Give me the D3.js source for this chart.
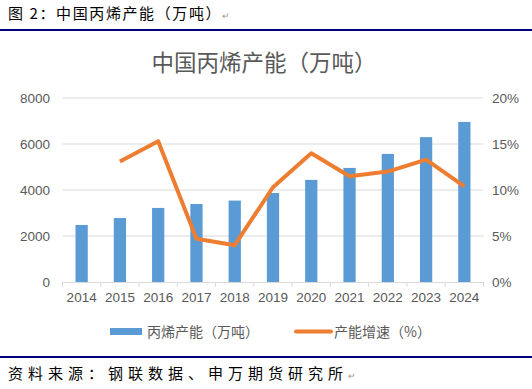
<!DOCTYPE html>
<html>
<head>
<meta charset="utf-8">
<script src="https://cdn.jsdelivr.net/npm/d3@7"></script>
<style>
	body { margin: 0; background: #fff; }
	svg { display: block; }
</style>
</head>
<body>
<svg id="chart"></svg>
<script>
const years = ["2014", "2015", "2016", "2017", "2018", "2019", "2020", "2021", "2022", "2023", "2024"];
const capacity = [2480, 2780, 3220, 3390, 3540, 3870, 4440, 4960, 5570, 6300, 6960];
const growth = [null, 13.1, 15.3, 4.7, 4.0, 10.3, 14.0, 11.5, 12.0, 13.3, 10.4];
const leftTicks = [0, 2000, 4000, 6000, 8000];
const rightTicks = [0, 5, 10, 15, 20];

const w = 532, h = 389;
const latin = "'Liberation Sans', Arial, 'Noto Sans CJK SC', sans-serif";
const cjk = "'Noto Sans CJK SC', sans-serif";

const svg = d3.select("#chart")
	.attr("width", w)
	.attr("height", h);

// header / footer of the report page
const header = svg.append("text")
	.attr("x", 8)
	.attr("y", 14)
	.attr("dy", "0.35em")
	.attr("font-size", "15px")
	.attr("font-family", cjk)
	.attr("letter-spacing", "1.6px")
	.attr("fill", "#000");
header.append("tspan").text("图 2：中国丙烯产能（万吨）");
header.append("tspan").text("↵")
	.attr("font-size", "9px")
	.attr("fill", "#999");

svg.append("line")
	.attr("x1", 0).attr("x2", w)
	.attr("y1", 30).attr("y2", 30)
	.attr("stroke", "#000080")
	.attr("stroke-width", 2);

svg.append("line")
	.attr("x1", 0).attr("x2", w)
	.attr("y1", 357).attr("y2", 357)
	.attr("stroke", "#000080")
	.attr("stroke-width", 2);

const footer = svg.append("text")
	.attr("x", 8)
	.attr("y", 374)
	.attr("dy", "0.35em")
	.attr("font-size", "15px")
	.attr("font-family", cjk)
	.attr("fill", "#000");
footer.append("tspan").text("资料来源：钢联数据、申万期货研究所")
	.attr("letter-spacing", "5px");
footer.append("tspan").text("↵")
	.attr("font-size", "9px")
	.attr("fill", "#999");

// chart title
svg.append("text")
	.text("中国丙烯产能（万吨）")
	.attr("x", 264)
	.attr("y", 63)
	.attr("dy", "0.35em")
	.attr("text-anchor", "middle")
	.attr("font-size", "22.5px")
	.attr("font-family", cjk)
	.attr("fill", "#595959");

const x = d3.scaleBand()
	.domain(years)
	.range([62.5, 483.5])
	.paddingInner(0.68)
	.paddingOuter(0.34);

const yL = d3.scaleLinear().domain([0, 8000]).range([282, 98]);
const yR = d3.scaleLinear().domain([0, 20]).range([282, 98]);

// gridlines
svg.append("g")
	.selectAll("line")
	.data(leftTicks.slice(1))
	.enter()
	.append("line")
	.attr("x1", 62.5).attr("x2", 483.5)
	.attr("y1", d => yL(d)).attr("y2", d => yL(d))
	.attr("stroke", "#d9d9d9")
	.attr("stroke-width", 1);

// bars
svg.append("g")
	.selectAll("rect")
	.data(capacity)
	.enter()
	.append("rect")
	.attr("x", (d, i) => x(years[i]))
	.attr("y", d => yL(d))
	.attr("width", x.bandwidth())
	.attr("height", d => yL(0) - yL(d))
	.attr("fill", "#5b9bd5");

// bottom axis
const xAxis = svg.append("g")
	.attr("transform", "translate(0,282)")
	.call(d3.axisBottom(x).tickSize(0).tickPadding(10));
xAxis.select(".domain").attr("stroke", "#d9d9d9");
xAxis.selectAll("text")
	.attr("font-size", "13.5px")
	.attr("font-family", latin)
	.attr("fill", "#595959");

// category separators
const step = x.step();
svg.append("g")
	.selectAll("line")
	.data(d3.range(years.length + 1))
	.enter()
	.append("line")
	.attr("x1", i => 62.5 + i * step).attr("x2", i => 62.5 + i * step)
	.attr("y1", 282).attr("y2", 287)
	.attr("stroke", "#d9d9d9");

// left axis labels
svg.append("g")
	.selectAll("text")
	.data(leftTicks)
	.enter()
	.append("text")
	.text(d => d)
	.attr("x", 50)
	.attr("y", d => yL(d))
	.attr("dy", "0.35em")
	.attr("text-anchor", "end")
	.attr("font-size", "13.5px")
	.attr("font-family", latin)
	.attr("fill", "#595959");

// right axis labels
svg.append("g")
	.selectAll("text")
	.data(rightTicks)
	.enter()
	.append("text")
	.text(d => d + "%")
	.attr("x", 492)
	.attr("y", d => yR(d))
	.attr("dy", "0.35em")
	.attr("text-anchor", "start")
	.attr("font-size", "13.5px")
	.attr("font-family", latin)
	.attr("fill", "#595959");

// growth line
const lineFun = d3.line()
	.defined(d => d != null)
	.x((d, i) => x(years[i]) + x.bandwidth() / 2)
	.y(d => yR(d));

svg.append("path")
	.attr("d", lineFun(growth))
	.attr("fill", "none")
	.attr("stroke", "#ed7d31")
	.attr("stroke-width", 4)
	.attr("stroke-linejoin", "round");

// legend
const legend = svg.append("g");
legend.append("rect")
	.attr("x", 110).attr("y", 328)
	.attr("width", 32).attr("height", 7)
	.attr("fill", "#5b9bd5");
legend.append("text")
	.text("丙烯产能（万吨）")
	.attr("x", 147).attr("y", 332)
	.attr("dy", "0.35em")
	.attr("font-size", "14px")
	.attr("font-family", cjk)
	.attr("fill", "#595959");
legend.append("line")
	.attr("x1", 296).attr("x2", 331)
	.attr("y1", 331.5).attr("y2", 331.5)
	.attr("stroke", "#ed7d31")
	.attr("stroke-width", 4)
	.attr("stroke-linecap", "round");
legend.append("text")
	.text("产能增速（%）")
	.attr("x", 334).attr("y", 332)
	.attr("dy", "0.35em")
	.attr("font-size", "14px")
	.attr("font-family", cjk)
	.attr("fill", "#595959");
</script>
</body>
</html>
